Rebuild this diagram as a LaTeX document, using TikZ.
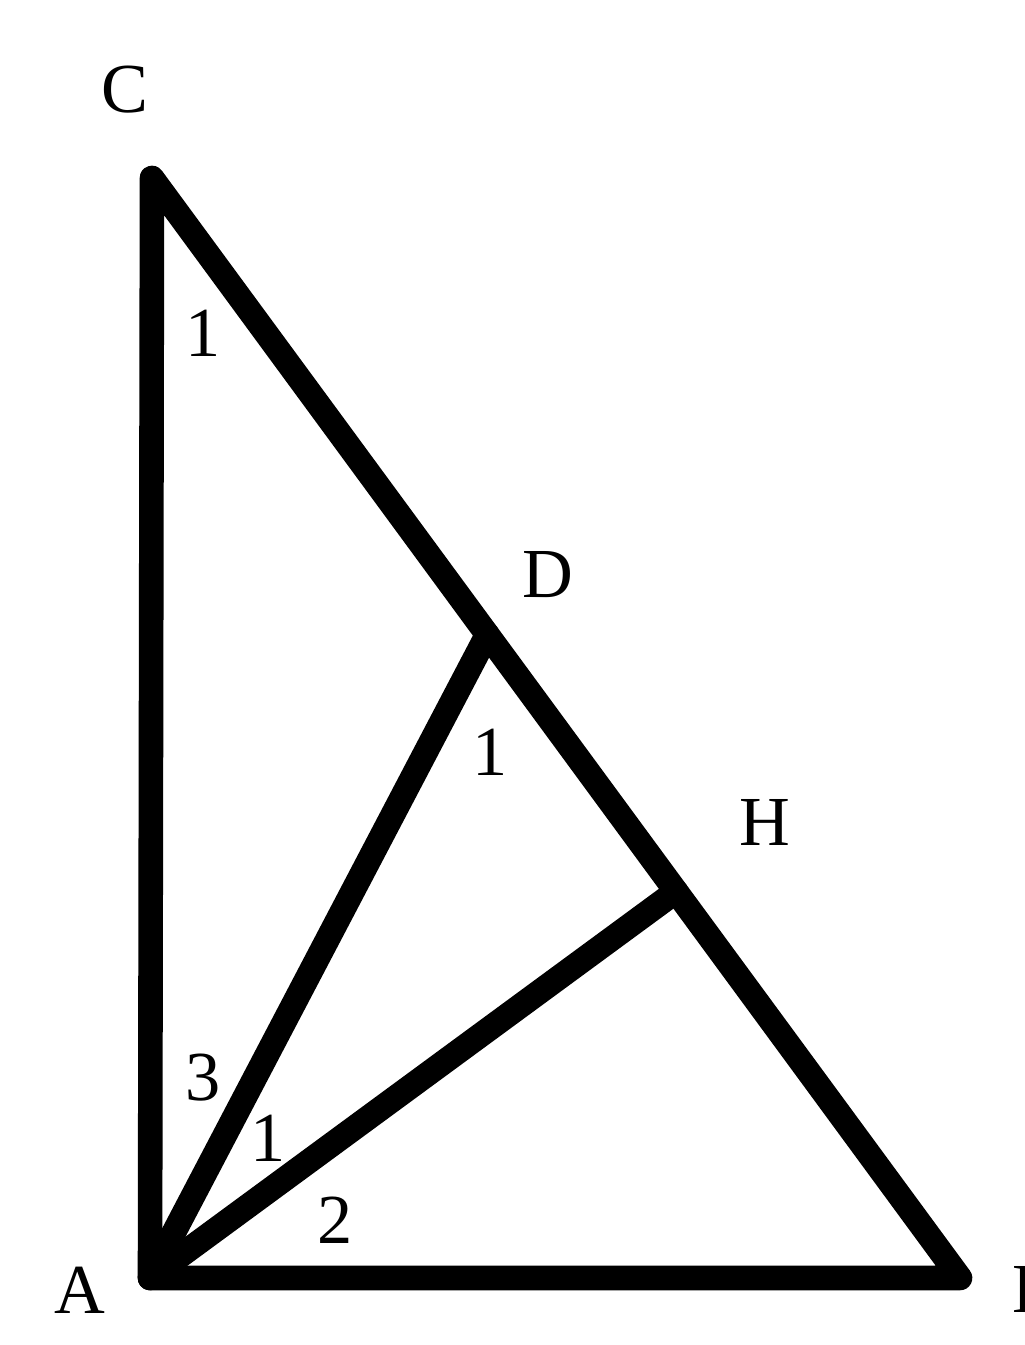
\documentclass[tikz,border=0pt]{standalone}
\usepackage{fontspec}
\setmainfont{Liberation Serif}
\usepackage{tikz}
\usetikzlibrary{calc}

\begin{document}
\begin{tikzpicture}[
  every node/.style = {font=\fontsize{20}{24}\selectfont, inner sep=0pt},
  side/.style = {line width=7pt, line join=round, line cap=round}
]
\useasboundingbox (0,0) rectangle (10.24,13.45);
\coordinate (A) at (1.50,0.67);
\coordinate (C) at (1.52,11.67);
\coordinate (B) at (9.60,0.67);
\coordinate (D) at ($(C)!0.415!(B)$);
\coordinate (H) at ($(C)!(A)!(B)$);
% triangle and the two lines from A
\draw[side] (A) -- (C) -- (B) -- cycle;
\draw[side] (A) -- (D);
\draw[side] (A) -- (H);
% letters
\node (lC) at (1.25,12.55) {C};
\node (lD) at (5.48,7.70) {D};
\node (lH) at (7.65,5.23) {H};
\node (lA) at (0.80,0.55) {A};
\node (lB) at (10.36,0.55) {B};
% angle numbers
\node (c1) at (2.03,10.12) {1};
\node (d1) at (4.90,5.93) {1};
\node (a3) at (2.03,2.67) {3};
\node (a1) at (2.68,2.07) {1};
\node (a2) at (3.35,1.25) {2};
\end{tikzpicture}
\end{document}
